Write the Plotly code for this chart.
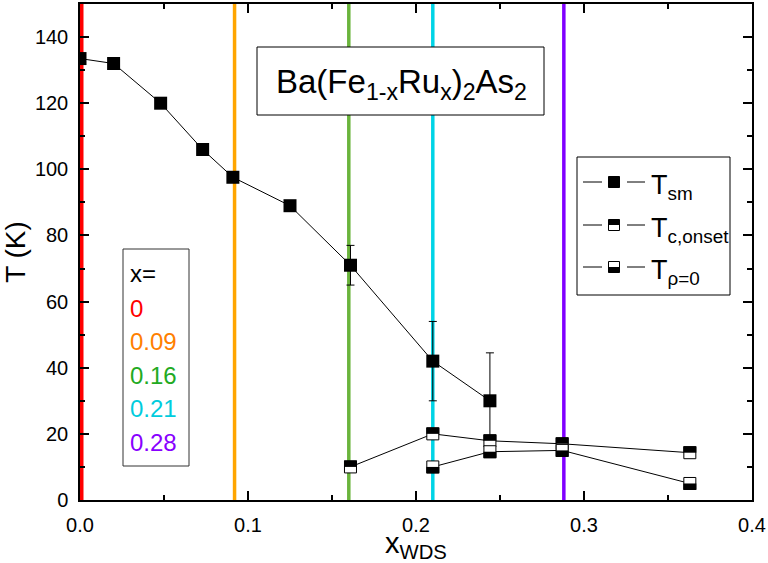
import plotly.graph_objects as go

# ---------------- data ----------------
x_sm = [0.0, 0.020, 0.048, 0.073, 0.091, 0.125, 0.161, 0.210, 0.244]
T_sm = [133.5, 132, 120, 106, 97.6, 89, 71, 42, 30]
T_sm_err = [0, 0, 0, 0, 0, 0, 6, 12, 14.5]

x_con = [0.161, 0.210, 0.244, 0.287, 0.363]
T_con = [10, 20, 17.9, 17, 14.3]

x_r0 = [0.210, 0.244, 0.287, 0.363]
T_r0 = [10, 14.6, 15, 5]

x_marks = [0.0, 0.092, 0.160, 0.210, 0.288]
x_mark_labels = ["0", "0.09", "0.16", "0.21", "0.28"]
line_colors = ["#ff0000", "#ffa500", "#6ab43c", "#00d4e6", "#8000ff"]
text_colors = ["#ff0000", "#ff8000", "#22aa22", "#00ccdd", "#8800ff"]

FONT = "Liberation Sans, Arial, sans-serif"
W, H = 768, 563
L, R, TOP, B = 80, 16, 4, 63
PW, PH = W - L - R, H - TOP - B


def px(x):
    return (x - L) / PW


def py(y):
    return (H - B - y) / PH


fig = go.Figure()

# vertical composition markers
for xv, c in zip(x_marks, line_colors):
    fig.add_trace(go.Scatter(x=[xv, xv], y=[0, 150], mode="lines",
                             line=dict(color=c, width=7 if xv == 0 else 3.5),
                             showlegend=False, hoverinfo="skip"))

fig.add_trace(go.Scatter(
    x=x_sm, y=T_sm, mode="lines+markers", name="T_sm",
    line=dict(color="black", width=1),
    marker=dict(symbol="square", size=13, color="black"),
    error_y=dict(type="data", array=T_sm_err, color="black", thickness=1, width=4),
    showlegend=False))

fig.add_trace(go.Scatter(
    x=x_con, y=T_con, mode="lines+markers", name="T_c,onset",
    line=dict(color="black", width=1),
    marker=dict(symbol="square", size=12, color="white", line=dict(color="black", width=1)),
    showlegend=False))

fig.add_trace(go.Scatter(
    x=x_r0, y=T_r0, mode="lines+markers", name="T_rho=0",
    line=dict(color="black", width=1),
    marker=dict(symbol="square", size=12, color="white", line=dict(color="black", width=1)),
    showlegend=False))

shapes = []
# half-filled markers: black top half for T_c,onset, black bottom half for T_rho=0
for xv, tv in zip(x_con, T_con):
    shapes.append(dict(type="rect", xref="x", yref="y", xsizemode="pixel", ysizemode="pixel",
                       xanchor=xv, yanchor=tv, x0=-6.5, x1=6.5, y0=0, y1=6.5,
                       fillcolor="black", line=dict(width=0), layer="above"))
for xv, tv in zip(x_r0, T_r0):
    shapes.append(dict(type="rect", xref="x", yref="y", xsizemode="pixel", ysizemode="pixel",
                       xanchor=xv, yanchor=tv, x0=-6.5, x1=6.5, y0=-6.5, y1=0,
                       fillcolor="black", line=dict(width=0), layer="above"))

annotations = []

# title box
shapes.append(dict(type="rect", xref="paper", yref="paper",
                   x0=px(257), x1=px(544), y0=py(115), y1=py(47),
                   fillcolor="white", line=dict(color="black", width=1), layer="above"))
annotations.append(dict(xref="paper", yref="paper", x=px(401), y=py(84),
                        xanchor="center", yanchor="middle", showarrow=False,
                        text="Ba(Fe<sub>1-x</sub>Ru<sub>x</sub>)<sub>2</sub>As<sub>2</sub>",
                        font=dict(family=FONT, size=33, color="black")))

# x= box
shapes.append(dict(type="rect", xref="paper", yref="paper",
                   x0=px(123), x1=px(189), y0=py(466), y1=py(249),
                   fillcolor="white", line=dict(color="#333333", width=1), layer="above"))
annotations.append(dict(xref="paper", yref="paper", x=px(128), y=py(273),
                        xanchor="left", yanchor="middle", showarrow=False,
                        text="x=", font=dict(family=FONT, size=24, color="black")))
for i, (lab, c) in enumerate(zip(x_mark_labels, text_colors)):
    annotations.append(dict(xref="paper", yref="paper", x=px(128), y=py(308 + i * 33.5),
                            xanchor="left", yanchor="middle", showarrow=False,
                            text=lab, font=dict(family=FONT, size=24, color=c)))

# legend box
shapes.append(dict(type="rect", xref="paper", yref="paper",
                   x0=px(577), x1=px(730), y0=py(295), y1=py(157),
                   fillcolor="white", line=dict(color="black", width=1), layer="above"))
leg_rows = [182, 225, 267]
leg_text = ["T<sub>sm</sub>", "T<sub>c,onset</sub>", "T<sub>ρ=0</sub>"]
leg_fill = ["full", "top", "bottom"]
for ry, txt, fill in zip(leg_rows, leg_text, leg_fill):
    for (a, b) in [(583, 602), (627, 645)]:
        shapes.append(dict(type="line", xref="paper", yref="paper",
                           x0=px(a), x1=px(b), y0=py(ry), y1=py(ry),
                           line=dict(color="black", width=1), layer="above"))
    shapes.append(dict(type="rect", xref="paper", yref="paper",
                       x0=px(608.5), x1=px(619.5), y0=py(ry + 5.5), y1=py(ry - 5.5),
                       fillcolor="black" if fill == "full" else "white",
                       line=dict(color="black", width=1), layer="above"))
    if fill == "top":
        shapes.append(dict(type="rect", xref="paper", yref="paper",
                           x0=px(608.5), x1=px(619.5), y0=py(ry), y1=py(ry - 5.5),
                           fillcolor="black", line=dict(width=0), layer="above"))
    if fill == "bottom":
        shapes.append(dict(type="rect", xref="paper", yref="paper",
                           x0=px(608.5), x1=px(619.5), y0=py(ry + 5.5), y1=py(ry),
                           fillcolor="black", line=dict(width=0), layer="above"))
    annotations.append(dict(xref="paper", yref="paper", x=px(649), y=py(ry + 5),
                            xanchor="left", yanchor="middle", showarrow=False,
                            text=txt, font=dict(family=FONT, size=27, color="black")))

axis_common = dict(showline=True, linecolor="black", linewidth=1.5, mirror="ticks",
                   ticks="inside", ticklen=9, tickwidth=1.5, tickcolor="black",
                   showgrid=False, zeroline=False, automargin=False,
                   tickfont=dict(family=FONT, size=20, color="black"))

fig.update_layout(
    width=W, height=H,
    margin=dict(l=L, r=R, t=TOP, b=B),
    paper_bgcolor="white", plot_bgcolor="white",
    font=dict(family=FONT, color="black"),
    shapes=shapes, annotations=annotations,
    xaxis=dict(range=[0, 0.4], dtick=0.1, tick0=0, tickformat=".1f",
               minor=dict(ticks="inside", dtick=0.05, ticklen=5, tickwidth=1.5, tickcolor="black"),
               ticklabelstandoff=6,
               title=dict(text="x<sub>WDS</sub>", font=dict(family=FONT, size=29), standoff=0),
               **axis_common),
    yaxis=dict(range=[0, 150], dtick=20, tick0=0,
               minor=dict(ticks="inside", dtick=10, ticklen=5, tickwidth=1.5, tickcolor="black"),
               ticklabelstandoff=6,
               title=dict(text="T (K)", font=dict(family=FONT, size=28), standoff=6),
               **axis_common),
)

fig.write_html("out.html",
               config={"displayModeBar": False},
               post_script="document.body.style.margin='0px';"
                           "document.documentElement.style.overflow='hidden';")
